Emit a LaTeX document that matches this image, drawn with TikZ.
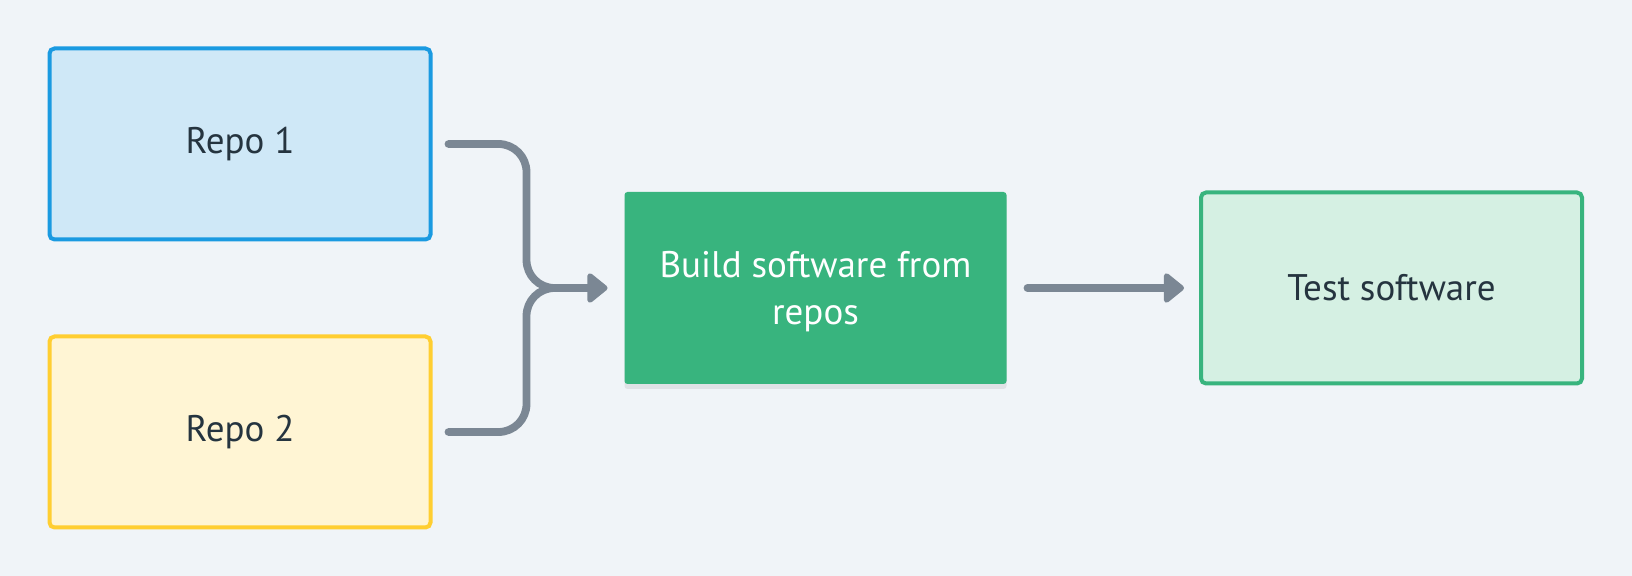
\documentclass[tikz,border=0pt]{standalone}
\usepackage{fontspec}
\setmainfont{PT Sans}
\usepackage{tikz}
\usetikzlibrary{calc}
\usetikzlibrary{arrows.meta}
\usetikzlibrary{shadows}
\definecolor{bgc}{HTML}{F0F4F8}
\definecolor{blueline}{HTML}{1A9AE1}
\definecolor{bluefill}{HTML}{CFE8F7}
\definecolor{yellowline}{HTML}{FFCE31}
\definecolor{yellowfill}{HTML}{FFF5D4}
\definecolor{greendark}{HTML}{38B47E}
\definecolor{greenfill}{HTML}{D5F0E3}
\definecolor{arrowc}{HTML}{7B8794}
\definecolor{textc}{HTML}{25343F}

\begin{document}
\begin{tikzpicture} [x=.5pt, y=-.5pt,
  box/.style={rectangle, rounded corners=2.5pt, line width=2pt, minimum width=190.5pt, minimum height=95.5pt, inner sep=0pt, text=textc, font=\fontsize{18.5}{23.5}\selectfont, align=center},
  link/.style={arrowc, line width=3.9pt, line cap=round},
  headtip/.style={-{Triangle[length=11pt 0, width=17pt 0, line join=round]}}]
\fill[bgc] (0,0) rectangle (1632,576);
\useasboundingbox (0,0) rectangle (1632,576);
\node[box, draw=blueline, fill=bluefill] (repoA) at (240,144) {Repo 1};
\node[box, draw=yellowline, fill=yellowfill] (repoB) at (240,432) {Repo 2};
\node[box, fill=greendark, text=white, rounded corners=1.5pt, minimum width=191pt, minimum height=96pt,
  drop shadow={shadow xshift=0pt, shadow yshift=-2.5pt, opacity=.15}] (build) at (815.5,288) {\strut Build software from\\repos};
\node[box, draw=greendark, fill=greenfill] (test) at (1391.5,288) {Test software};
\coordinate (join) at ($(build.west)+(-96,0)$);
\draw[link, rounded corners=14pt] ($(repoA.east)+(16,0)$) -- (join |- repoA.east) -- (join) -- ($(build.west)+(-40,0)$);
\draw[link, rounded corners=14pt] ($(repoB.east)+(16,0)$) -- (join |- repoB.east) -- (join) -- ($(build.west)+(-40,0)$);
\draw[link, headtip] ($(build.west)+(-50,0)$) -- ($(build.west)+(-15,0)$);
\draw[link, headtip] ($(build.east)+(19,0)$) -- ($(test.west)+(-15,0)$);
\end{tikzpicture}
\end{document}
